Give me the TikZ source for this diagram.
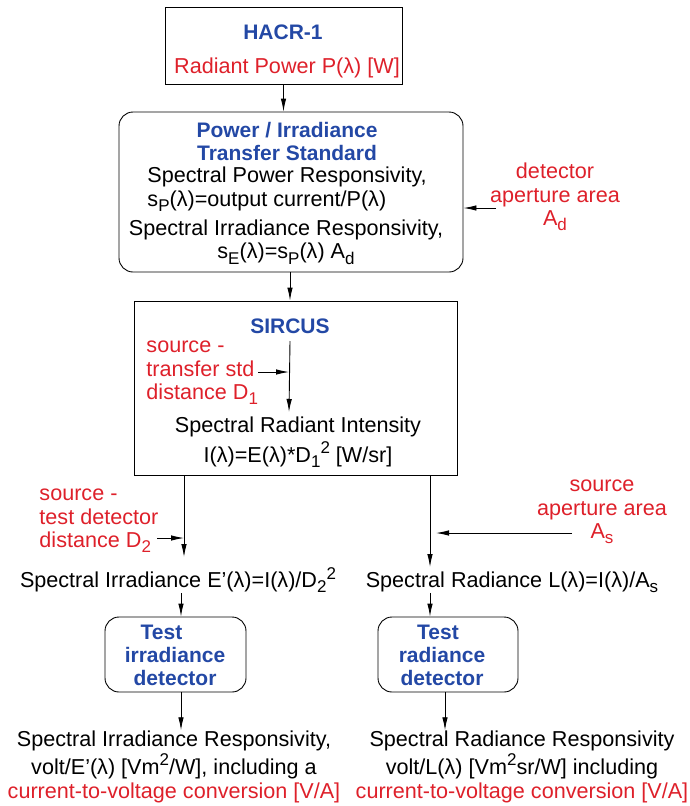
\documentclass[tikz,border=0pt]{standalone}
\usepackage{fontspec}
\setmainfont{Liberation Sans}
\usetikzlibrary{arrows.meta, positioning}
\definecolor{headblue}{RGB}{35,72,165}
\definecolor{notered}{RGB}{222,32,42}
\newcommand{\lo}[1]{\raisebox{-0.45ex}{\fontsize{17}{17}\selectfont #1}}
\newcommand{\hi}[1]{\raisebox{0.75ex}{\fontsize{17}{17}\selectfont #1}}
\tikzset{
    flow/.style={x=1pt, y=-1pt, line width=0.9pt, >={Latex[length=13pt,width=5.5pt]},
        font=\fontsize{21.6}{23.5}\selectfont},
    box/.style={draw, inner sep=0pt},
    roundbox/.style={box, rounded corners=14pt},
    head/.style={font=\fontsize{21}{23}\selectfont\bfseries, text=headblue, align=center, inner sep=0pt},
    txt/.style={align=center, inner sep=0pt},
    note/.style={text=notered, align=center, inner sep=0pt},
}
\begin{document}
\begin{tikzpicture}[flow]
    \useasboundingbox (0,0) rectangle (690,806);

    % frames
    \node[box, minimum width=237pt, minimum height=77pt]      (hacrbox) at (283.5,45.5) {};
    \node[roundbox, minimum width=344pt, minimum height=160pt] (tsbox)  at (291,192)   {};
    \node[box, minimum width=323pt, minimum height=174pt]     (sirbox)  at (295.5,388)  {};
    \node[roundbox, minimum width=141pt, minimum height=75pt]  (irrbox)  at (175.5,654.5) {};
    \node[roundbox, minimum width=140pt, minimum height=75pt]  (radbox)  at (448,654.5) {};

    % HACR-1
    \node[head]                (hacr)   at (283,32)  {HACR-1};
    \node[txt, text=notered]   (power)  at (287,68)  {Radiant Power P(λ) [W]};

    % transfer standard
    \node[head]                (tshead) at (287,141) {Power / Irradiance\\Transfer Standard};
    \node[txt, align=left, anchor=west] (spow) at (147,189) {Spectral Power Responsivity,\\s\lo{P}(λ)=output current/P(λ)};
    \node[txt]                 (sirr)   at (286,242) {Spectral Irradiance Responsivity,\\s\lo{E}(λ)=s\lo{P}(λ) A\lo{d}};
    \node[note]                (adlab)  at (555,197) {detector\\aperture area\\A\lo{d}};
    \coordinate                (adtail) at (496,208);

    % SIRCUS
    \node[head]                (sirhead) at (290,326) {SIRCUS};
    \node[note, align=left, anchor=west] (d1lab) at (146,373) {source -\\transfer std\\distance D\lo{1}};
    \coordinate                (d1tail) at (258,372);
    \coordinate                (d1end)  at (289,412);
    \node[txt]                 (intens) at (298,442) {Spectral Radiant Intensity\\[4pt]I(λ)=E(λ)*D\lo{1}\hi{2} [W/sr]};

    % irradiance branch
    \coordinate                (lend)   at (184,557);
    \node[note, align=left, anchor=west] (d2lab) at (39,521) {source -\\test detector\\distance D\lo{2}};
    \coordinate                (d2tail) at (157,538);
    \node[txt]                 (irrtxt) at (178,580) {Spectral Irradiance E'(λ)=I(λ)/D\lo{2}\hi{2}};
    \coordinate                (lx)     at (181,0);
    \node[head]                (irrname) at (175,655) {Test\hspace*{27pt}\\irradiance\\detector};
    \node[txt]                 (irrresp) at (174,767) {Spectral Irradiance Responsivity,\\[2pt]volt/E'(λ) [Vm\hi{2}/W], including a\\[1pt]\textcolor{notered}{current-to-voltage conversion [V/A]}};

    % radiance branch
    \coordinate                (rend)   at (430,567);
    \node[note]                (aslab)  at (602,512) {source\\aperture area\\A\lo{s}};
    \coordinate                (astail) at (572,533);
    \coordinate                (asend)  at (436,533);
    \node[txt]                 (radtxt) at (512,582) {Spectral Radiance L(λ)=I(λ)/A\lo{s}};
    \coordinate                (rx)     at (445,0);
    \node[head]                (radname) at (442,655) {Test\hspace*{8pt}\\radiance\\detector};
    \node[txt]                 (radresp) at (522,767) {Spectral Radiance Responsivity\\[2pt]volt/L(λ) [Vm\hi{2}sr/W] including\\[1pt]\textcolor{notered}{current-to-voltage conversion [V/A]}};

    % connectors
    \draw[->] (hacrbox.south) -- (hacrbox.south |- tsbox.north);
    \draw[->] (tsbox.south -| sirhead) -- (sirbox.north -| sirhead);
    \draw[->] (adtail) -- (adtail -| tsbox.east);
    \draw[->] (sirhead.south |- 0,341) -- (d1end);
    \draw[->] (d1tail) -- (d1tail -| d1end);

    \draw[->] (sirbox.south -| lend) -- (lend);
    \draw[->] (d2tail) -- (d2tail -| lend);
    \draw[->] (irrtxt.south -| lx) -- (irrbox.north -| lx);
    \draw[->] (irrbox.south -| lx) -- (lx |- irrresp.north);

    \draw[->] (sirbox.south -| rend) -- (rend);
    \draw[->] (astail) -- (asend);
    \draw[->] (radtxt.south -| rend) -- (radbox.north -| rend);
    \draw[->] (radbox.south -| rx) -- (rx |- radresp.north);
\end{tikzpicture}
\end{document}
